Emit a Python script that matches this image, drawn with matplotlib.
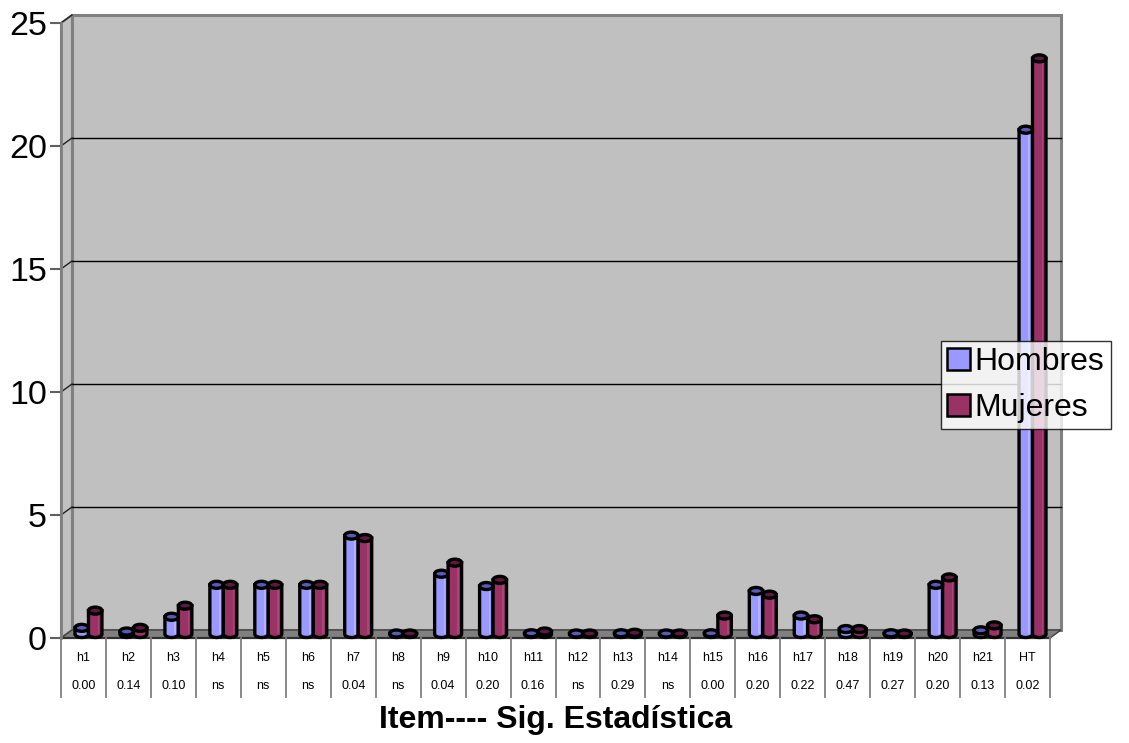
import numpy as np
import matplotlib
matplotlib.use("Agg")
import matplotlib.pyplot as plt
from matplotlib.patches import Polygon, Ellipse, Rectangle, Patch
from matplotlib.transforms import ScaledTranslation, blended_transform_factory

plt.rcParams['font.family'] = ['Liberation Sans', 'DejaVu Sans']

# ---- data ----
items = ["h1", "h2", "h3", "h4", "h5", "h6", "h7", "h8", "h9", "h10", "h11",
         "h12", "h13", "h14", "h15", "h16", "h17", "h18", "h19", "h20", "h21", "HT"]
significance = ["0.00", "0.14", "0.10", "ns", "ns", "ns", "0.04", "ns", "0.04", "0.20",
                "0.16", "ns", "0.29", "ns", "0.00", "0.20", "0.22", "0.47", "0.27",
                "0.20", "0.13", "0.02"]
hombres = [0.25, 0.10, 0.70, 2.0, 2.0, 2.0, 4.0, 0.02, 2.45, 1.95, 0.03,
           0.02, 0.03, 0.02, 0.03, 1.75, 0.75, 0.20, 0.03, 2.0, 0.15, 20.5]
mujeres = [0.95, 0.25, 1.15, 2.0, 2.0, 2.0, 3.9, 0.02, 2.90, 2.20, 0.10,
           0.02, 0.05, 0.02, 0.75, 1.60, 0.60, 0.20, 0.02, 2.30, 0.35, 23.4]
series_names = ["Hombres", "Mujeres"]
series_colors = ["#9999FF", "#993366"]
series_tops = ["#5A5AB8", "#5E1A3E"]
series_shine = ["#B8B8FF", "#B04A7E"]

W, H, DPI = 1129, 743, 100
fig = plt.figure(figsize=(W / DPI, H / DPI), dpi=DPI)

# front plane of the plot: x 61..1050 px, y 23..638 px (image coords)
L, R, T, B = 61, 1050, 23, 638
ax = fig.add_axes([L / W, 1 - B / H, (R - L) / W, (B - T) / H])
n = len(items)
ax.set_xlim(0, n)
ax.set_ylim(0, 25)
px_y = 25 / (B - T)          # data units per pixel (vertical)
px_x = n / (R - L)           # data units per pixel (horizontal)

def shifted(dx, dy):
    return ax.transData + ScaledTranslation(dx / DPI, dy / DPI, fig.dpi_scale_trans)

back = shifted(11, 8)
mid = shifted(5, 4)

# left side wall
side = Polygon([(0, 0), (0, 25), (11 * px_x, 25 + 8 * px_y), (11 * px_x, 8 * px_y)],
               closed=True, facecolor="#C0C0C0", edgecolor="#808080", lw=1.5,
               transform=ax.transData, clip_on=False, zorder=1)
ax.add_patch(side)
# back wall
ax.add_patch(Rectangle((0, 0), n, 25, facecolor="#C0C0C0", edgecolor="#808080",
                       lw=2.2, transform=back, clip_on=False, zorder=1))
# floor
floor = Polygon([(0, 0), (n, 0), (n + 11 * px_x, 8 * px_y), (11 * px_x, 8 * px_y)],
                closed=True, facecolor="#808080", edgecolor="#404040", lw=1.0,
                transform=ax.transData, clip_on=False, zorder=2)
ax.add_patch(floor)
ax.plot([0, n], [0, 0], color="#303030", lw=1.6, clip_on=False, zorder=3)

# gridlines on back wall and their diagonal on the side wall
for g in [5, 10, 15, 20, 25]:
    if g < 25:
        ax.plot([0, n], [g, g], color="black", lw=1.0, transform=back,
                clip_on=False, zorder=2)
    ax.plot([0, 11 * px_x], [g, g + 8 * px_y], color="#202020", lw=1.0,
            clip_on=False, zorder=2)

# cylinders
w = 0.30
e = 7 * px_y
t = np.linspace(0, np.pi, 40)

def cylinder(xc, v, face, top, shine):
    xl, xr = xc - w / 2, xc + w / 2
    arc_x = xc - (w / 2) * np.cos(t)
    arc_y = -(e / 2) * np.sin(t)
    pts = [(xl, v)] + list(zip(arc_x, arc_y)) + [(xr, v)]
    ax.add_patch(Polygon(pts, closed=True, facecolor=face, edgecolor="black",
                         lw=2.4, transform=mid, clip_on=False, zorder=4))
    if v > 0.3:
        ax.add_patch(Rectangle((xc + w * 0.18, 0), w * 0.12, v, facecolor=shine,
                               edgecolor="none", transform=mid, clip_on=False,
                               zorder=4.1, alpha=0.8))
    ax.add_patch(Ellipse((xc, v), w, e, facecolor=top, edgecolor="black",
                         lw=2.4, transform=mid, clip_on=False, zorder=4.2))

for i in range(n):
    for s, vals in enumerate([hombres, mujeres]):
        xc = i + 0.5 + (-w / 2 if s == 0 else w / 2)
        cylinder(xc, vals[i], series_colors[s], series_tops[s], series_shine[s])

# axes styling
for sp in ["top", "right", "bottom"]:
    ax.spines[sp].set_visible(False)
ax.spines["left"].set_color("#808080")
ax.spines["left"].set_linewidth(2.0)
ax.spines["left"].set_zorder(3)
ax.set_yticks([0, 5, 10, 15, 20, 25])
ax.tick_params(axis="y", direction="out", length=8, width=1.5, color="#606060",
               labelsize=24.5, pad=2)
ax.set_xticks([])
ax.patch.set_visible(False)

# category table below the floor
tb = blended_transform_factory(ax.transData, ax.transAxes)
hgt = B - T
for i in range(n + 1):
    ax.plot([i, i], [0, -59 / hgt], color="#808080", lw=1.3, transform=tb,
            clip_on=False, zorder=3)
for i in range(n):
    ax.text(i + 0.5, -20 / hgt, items[i], transform=tb, ha="center", va="center",
            fontsize=9)
    ax.text(i + 0.5, -48 / hgt, significance[i], transform=tb, ha="center",
            va="center", fontsize=9)

fig.text(556 / W, 1 - 720 / H, "Item---- Sig. Estadística", ha="center",
         va="center", fontsize=23, fontweight="bold")

handles = [Patch(facecolor=c, edgecolor="black", lw=1.8) for c in series_colors]
leg = fig.legend(handles, series_names, loc="center left",
                 bbox_to_anchor=(941 / W, 1 - 385 / H), fontsize=23,
                 frameon=True, fancybox=False, edgecolor="black",
                 handlelength=0.7, handleheight=0.7, handletextpad=0.15,
                 borderpad=0.2, labelspacing=0.5, borderaxespad=0)
leg.get_frame().set_linewidth(1.0)

fig.savefig("out.png", dpi=DPI)
